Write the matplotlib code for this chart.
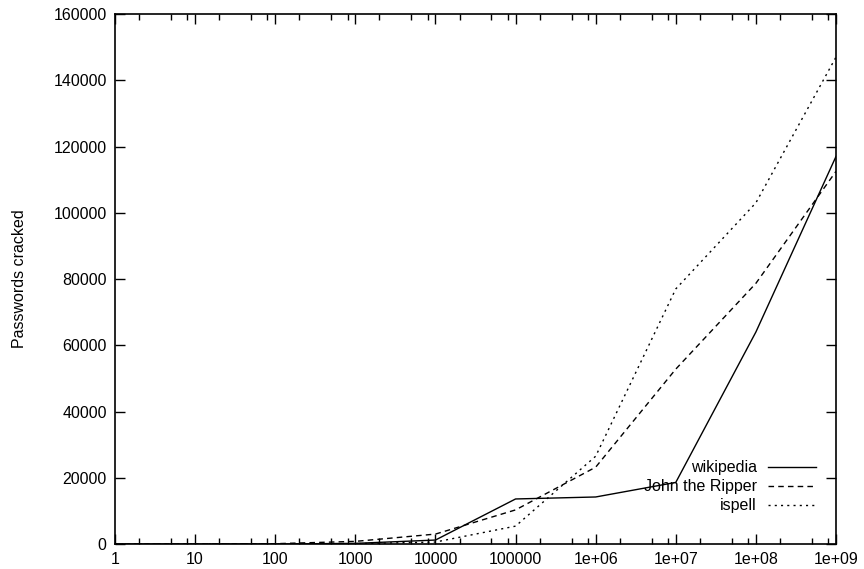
import matplotlib
matplotlib.use("Agg")
import matplotlib.pyplot as plt
import matplotlib.ticker as mticker

plt.rcParams["font.family"] = ["Liberation Sans", "DejaVu Sans"]

# guesses per decade, 1 .. 1e9
guesses = [1, 10, 100, 1000, 10000, 100000, 1e6, 1e7, 1e8, 1e9]
x_labels = ["1", "10", "100", "1000", "10000", "100000", "1e+06", "1e+07", "1e+08", "1e+09"]

wikipedia = [0, 0, 0, 200, 1200, 13600, 14200, 18600, 64000, 117000]
john_the_ripper = [0, 0, 100, 800, 3000, 10300, 23200, 52800, 78700, 112500]
ispell = [0, 0, 0, 100, 600, 5400, 26500, 77000, 103000, 147000]

y_ticks = [0, 20000, 40000, 60000, 80000, 100000, 120000, 140000, 160000]

fig = plt.figure(figsize=(8.64, 5.69), dpi=100)
ax = fig.add_axes([0.1331, 0.0439, 0.8345, 0.9315])

ax.plot(guesses, wikipedia, color="black", lw=1.0, ls="-", label="wikipedia")
ax.plot(guesses, john_the_ripper, color="black", lw=1.0, ls=(0, (4, 3)), label="John the Ripper")
ax.plot(guesses, ispell, color="black", lw=1.0, ls=(0, (1.5, 3)), label="ispell")

ax.set_xscale("log")
ax.set_xlim(1, 1e9)
ax.set_ylim(0, 160000)

ax.xaxis.set_major_locator(mticker.FixedLocator(guesses))
ax.xaxis.set_major_formatter(mticker.FixedFormatter(x_labels))
ax.xaxis.set_minor_locator(mticker.LogLocator(base=10, subs=(2, 5, 8), numticks=20))
ax.xaxis.set_minor_formatter(mticker.NullFormatter())
ax.set_yticks(y_ticks)
ax.yaxis.set_major_formatter(mticker.FuncFormatter(lambda v, p: "%d" % v))

ax.tick_params(which="both", direction="in", top=True, right=True, labelsize=11.5, width=1.0, colors="black")
ax.tick_params(which="major", length=7, pad=6)
ax.tick_params(which="minor", length=4)
for s in ax.spines.values():
    s.set_linewidth(1.2)

ax.set_ylabel("Passwords cracked", fontsize=11.5, labelpad=19)

# legend sits in the lower right, text right-aligned with the line sample after it
ax.legend(loc="lower right", bbox_to_anchor=(0.981, 0.046), markerfirst=False, frameon=False,
          fontsize=11.5, handlelength=3.0, handletextpad=0.7, labelspacing=0.25, borderaxespad=0)

fig.savefig("out.png", dpi=100)
